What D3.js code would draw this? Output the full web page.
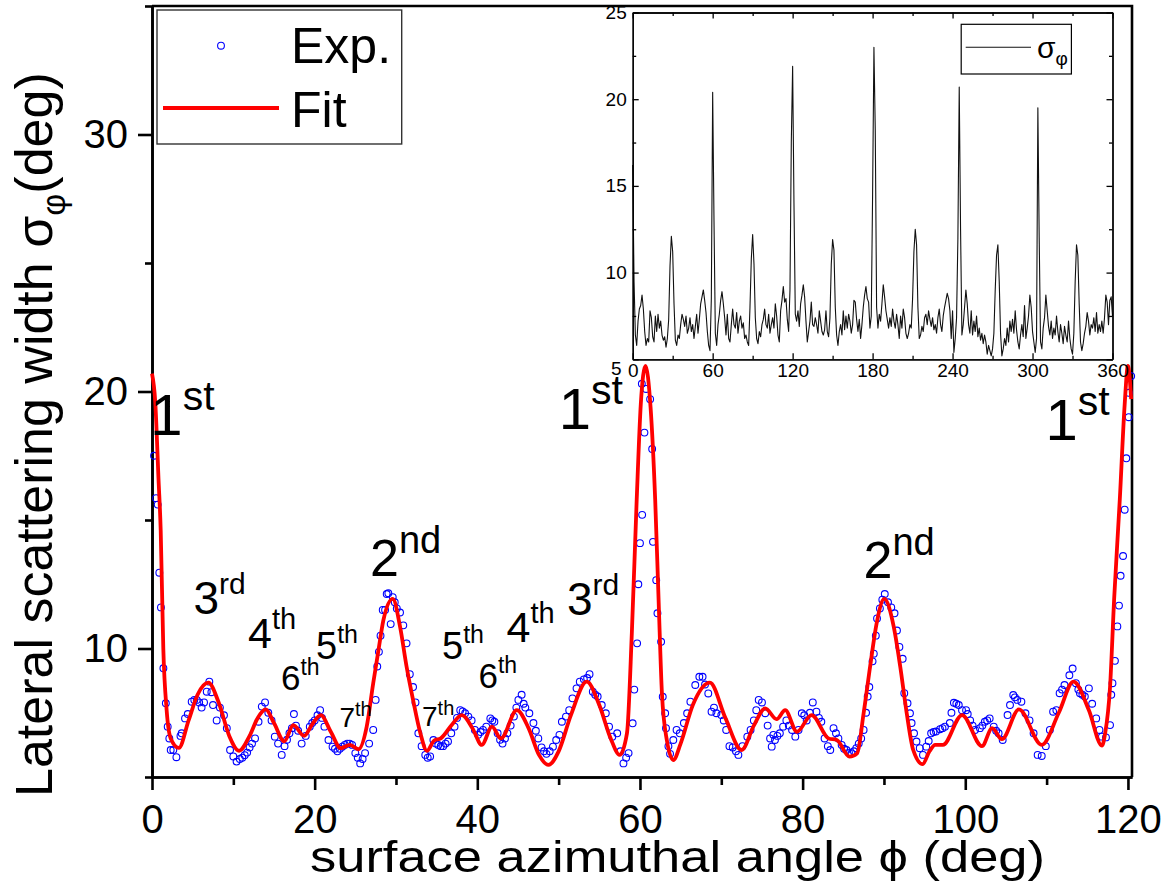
<!DOCTYPE html>
<html>
<head>
<meta charset="utf-8">
<script src="https://cdn.jsdelivr.net/npm/d3@7"></script>
<style>
  html, body { margin: 0; padding: 0; background: #fff; }
  svg { display: block; }
</style>
</head>
<body>
<svg id="chart" width="1172" height="894"></svg>
<script>
// ---------- data ----------
// measured lateral scattering width (deg) vs surface azimuth (deg), folded into 0-120
const expPoints = [
  [0.25,17.5],[0.5,15.85],[0.7,15.6],[0.9,12.95],[1.1,11.6],[1.4,9.23],[1.7,7.87],[1.93,6.96],[2.13,6.5],[2.3,6.05],
  [2.62,6.05],[3.0,5.77],[3.5,6.6],[3.65,6.7],[4.06,7.28],[4.4,7.45],[4.88,7.93],[5.2,8.0],[5.5,8.0],[5.8,7.9],
  [6.1,7.7],[6.4,7.9],[6.73,8.32],[7.05,8.71],[7.3,8.3],[7.5,7.8],[7.95,7.2],[8.35,7.7],[8.85,7.4],[9.2,6.9],
  [9.6,6.05],[10.0,5.8],[10.4,5.6],[10.8,5.7],[11.1,5.75],[11.4,5.85],[11.7,5.95],[12.0,6.15],[12.3,6.3],[12.67,6.5],
  [13.1,7.15],[13.5,7.74],[13.9,7.9],[14.3,7.5],[14.7,7.2],[15.1,6.57],[15.5,6.3],[15.95,5.86],[16.3,6.2],[16.6,6.45],
  [16.9,6.7],[17.2,6.9],[17.45,7.45],[17.7,7.0],[17.97,6.8],[18.4,6.3],[18.9,6.6],[19.4,6.96],[19.7,7.1],[20.0,7.2],
  [20.35,7.4],[20.67,7.6],[20.9,7.3],[21.2,6.96],[21.7,6.44],[22.2,6.18],[22.5,6.1],[22.8,6.0],[23.1,6.1],[23.4,6.18],
  [23.7,6.25],[24.0,6.3],[24.3,6.3],[24.6,6.25],[25.0,5.93],[25.3,5.75],[25.6,5.53],[25.9,5.7],[26.2,5.93],[26.7,6.3],
  [27.2,6.83],[27.5,8.0],[27.7,9.3],[27.9,9.87],[28.1,10.5],[28.37,11.5],[28.66,11.5],[28.86,12.12],[29.06,12.15],[29.35,10.95],
  [29.6,12.0],[29.85,11.8],[30.1,11.56],[30.5,11.4],[30.9,10.9],[31.3,10.2],[31.7,9.0],[32.1,8.5],[32.4,7.9],[32.75,6.7],
  [33.15,6.2],[33.6,5.86],[33.9,5.75],[34.2,5.8],[34.6,6.44],[34.9,6.3],[35.2,6.25],[35.5,6.2],[35.8,6.2],[36.1,6.3],
  [36.4,6.38],[36.8,6.7],[37.2,6.96],[37.5,7.3],[37.9,7.6],[38.2,7.55],[38.5,7.48],[38.9,7.35],[39.3,7.2],[39.7,6.83],
  [40.1,6.64],[40.4,6.75],[40.7,6.83],[41.1,6.96],[41.6,7.28],[41.85,7.2],[42.1,7.15],[42.5,6.7],[42.8,6.45],[43.1,6.3],
  [43.4,6.5],[43.7,6.7],[44.1,7.0],[44.5,7.35],[44.8,7.7],[45.05,8.0],[45.45,8.2],[45.7,7.85],[45.9,7.7],[46.4,7.48],
  [46.9,7.1],[47.2,6.8],[47.5,6.5],[47.9,6.15],[48.2,6.0],[48.5,5.9],[48.9,6.0],[49.3,6.18],[49.7,6.44],[50.1,6.64],
  [50.4,7.15],[50.9,7.35],[51.3,7.6],[51.7,8.06],[52.2,8.45],[52.6,8.71],[53.1,8.8],[53.5,8.85],[53.8,9.0],[54.2,8.32],
  [54.5,8.2],[54.8,8.13],[55.3,7.8],[55.8,7.48],[56.2,6.96],[56.6,6.57],[57.2,6.7],[57.6,6.0],[57.97,5.53],[58.3,5.75],
  [58.6,5.93],[59.1,7.09],[59.3,8.4],[59.65,10.2],[59.8,12.5],[60.0,14.1],[60.23,20.3],[60.27,15.2],[60.55,18.4],[60.76,20.1],
  [61.25,19.7],[61.5,17.76],[61.6,14.15],[62.0,12.66],[62.15,11.37],[62.6,10.26],[62.8,8.12],[63.1,7.48],[63.2,6.9],[63.5,6.2],
  [63.7,5.9],[64.1,6.44],[64.5,6.83],[64.9,6.7],[65.4,7.1],[65.8,7.48],[66.2,7.93],[66.8,8.58],[67.3,8.9],[67.7,8.9],
  [68.0,8.6],[68.4,8.25],[68.8,7.54],[69.1,7.7],[69.4,7.48],[70.0,7.41],[70.3,7.2],[70.6,6.83],[71.0,6.2],[71.4,6.15],
  [71.8,6.0],[72.1,5.86],[72.6,6.2],[73.2,6.57],[73.6,6.83],[74.0,7.2],[74.3,7.6],[74.6,8.0],[75.0,7.9],[75.4,7.48],
  [75.7,7.0],[76.0,6.5],[76.2,6.18],[76.4,6.64],[76.6,6.44],[76.9,6.6],[77.2,6.7],[77.6,6.96],[78.0,7.2],[78.3,7.0],
  [78.7,6.83],[79.1,6.57],[79.5,6.83],[79.9,7.48],[80.2,7.4],[80.5,7.2],[80.9,7.5],[81.25,7.9],[81.7,7.54],[82.0,7.3],
  [82.3,7.15],[82.7,6.5],[83.1,6.2],[83.4,6.05],[83.8,6.9],[84.1,6.7],[84.4,6.5],[84.8,6.25],[85.1,6.1],[85.4,6.05],
  [85.7,5.95],[86.0,5.93],[86.3,6.0],[86.6,6.12],[86.9,6.3],[87.2,6.5],[87.5,6.83],[87.8,7.5],[88.0,8.13],[88.2,8.5],
  [88.6,9.5],[88.75,9.8],[89.0,10.5],[89.15,11.17],[89.5,11.56],[89.8,11.9],[90.1,12.12],[90.5,11.8],[90.9,11.6],[91.3,11.37],
  [91.6,10.7],[91.9,10.06],[92.3,9.6],[92.5,8.26],[92.9,7.87],[93.2,7.48],[93.4,7.1],[93.7,6.7],[94.0,6.38],[94.4,6.12],
  [94.8,5.86],[95.2,6.18],[95.5,6.4],[95.8,6.7],[96.1,6.75],[96.4,6.77],[96.9,6.86],[97.2,6.9],[97.5,6.96],[98.1,7.1],
  [98.3,7.5],[98.6,7.89],[98.9,7.85],[99.2,7.8],[99.6,7.6],[100.1,7.6],[100.3,7.45],[100.6,7.2],[100.9,7.0],[101.2,6.83],
  [101.8,6.9],[102.1,7.0],[102.4,7.15],[102.7,7.2],[103.0,7.28],[103.5,6.96],[103.8,6.8],[104.1,6.7],[104.6,6.44],[105.2,7.41],
  [105.5,7.8],[105.9,8.19],[106.1,8.1],[106.4,8.0],[106.9,7.93],[107.4,7.48],[107.9,7.2],[108.4,6.7],[108.9,5.86],[109.4,5.82],
  [109.9,6.2],[110.4,6.83],[110.8,7.54],[111.2,7.6],[111.6,8.26],[111.9,8.4],[112.2,8.58],[112.8,8.96],[113.2,9.22],[113.6,8.65],
  [113.9,8.4],[114.1,8.26],[114.4,8.2],[114.7,8.13],[115.2,8.45],[115.6,7.85],[116.1,7.28],[116.5,6.83],[116.8,6.57],[117.3,6.54],
  [117.8,7.02],[117.95,8.2],[118.1,8.65],[118.4,9.52],[118.7,10.86],[118.9,11.67],[119.1,12.83],[119.4,13.6],[119.6,15.4],[119.8,17.4],
  [120.1,19.95],[120.1,19.0],[120.4,20.6]
];

// fitted curve, sampled at its turning points and flanks
const fitPhi = [0,0.4,0.8,1.07,1.39,1.8,2.3,3.3,4.5,5.6,6.93,8.2,9.5,10.7,12.0,13.0,13.98,15.0,16.27,17.38,
  18.7,19.7,20.75,22.0,23.2,24.35,25.38,26.4,27.2,27.85,28.45,29.6,30.5,31.3,32.1,33.0,33.8,34.7,35.5,36.8,
  38.1,39.4,40.55,41.8,42.9,44.86,46.3,47.6,48.75,50.0,51.5,53.46,55.0,56.4,57.5,58.4,59.0,59.6,60.1,60.68,
  61.3,61.87,62.3,62.7,63.3,64.1,65.0,66.5,68.6,70.5,72.5,74.0,75.4,76.8,77.86,79.3,81.1,83.2,84.2,85.77,
  86.7,87.5,88.3,89.1,90.04,91.2,92.0,92.8,93.6,94.75,95.6,96.3,97.25,99.6,102.05,103.3,104.5,106.6,109.4,111.5,
  113.3,115.2,116.8,117.2,117.8,118.3,119.0,119.6,120.0,120.4];
const fitVal = [20.7,19.6,16.6,14.6,10.0,7.6,6.5,6.13,7.2,8.2,8.67,7.9,6.6,6.02,6.6,7.3,7.63,7.1,6.39,7.02,
  6.6,7.05,7.41,6.75,6.12,6.25,6.08,6.96,8.65,9.94,11.1,11.93,10.85,9.3,8.0,6.7,6.02,6.42,6.5,7.0,
  7.41,6.9,6.25,6.96,6.5,7.6,6.9,5.85,5.47,6.0,7.4,8.71,7.8,6.5,5.86,6.7,10.6,15.8,19.5,21.0,
  19.4,15.8,11.8,8.26,6.44,5.66,6.3,7.8,8.67,7.3,6.05,7.0,7.67,7.25,7.6,6.76,7.41,6.5,6.44,5.79,
  5.92,7.48,9.3,10.98,11.93,10.85,9.3,7.48,6.05,5.5,6.0,6.25,6.25,7.41,6.2,6.9,6.47,7.63,6.25,7.5,
  8.71,7.6,6.22,6.7,8.5,11.9,15.8,19.5,21.0,19.7];

// full-turn scan, one value per degree from 0 to 360
const insetVal = [
  16.2,9.5,6.4,5.8,7.2,7.9,8.1,8.7,7.9,6.6,
  5.8,6.2,6.0,7.8,7.4,6.3,6.0,7.5,6.6,7.6,
  6.8,7.2,6.4,6.1,6.3,5.7,6.2,7.3,10.4,12.1,
  11.2,8.2,6.1,5.8,6.4,6.2,7.0,7.6,7.3,6.9,
  7.5,6.5,6.8,7.4,6.6,7.0,6.2,6.9,7.6,6.5,
  7.3,8.2,8.6,9.0,8.4,7.7,6.6,5.8,5.5,8.5,
  20.4,13.0,6.5,5.8,7.0,7.6,8.4,8.9,8.2,7.4,
  6.4,7.6,6.2,6.0,7.0,7.9,7.0,6.8,7.7,6.5,
  7.2,7.5,6.8,7.1,6.2,6.4,6.0,5.8,8.0,10.8,
  12.2,10.5,7.4,6.2,5.9,6.6,6.3,7.0,7.3,7.9,
  7.0,6.8,7.6,6.5,7.0,7.4,6.8,8.2,7.5,6.4,
  6.0,7.8,8.4,9.2,8.3,8.5,7.3,6.6,9.0,17.5,
  21.9,14.0,7.6,7.2,7.8,6.9,8.2,8.7,9.3,8.6,
  7.2,6.0,6.6,7.2,8.3,7.0,6.9,7.4,7.0,6.5,
  7.8,7.2,6.6,6.4,6.7,7.8,6.6,6.3,7.4,10.5,
  11.9,11.3,8.0,6.4,5.8,6.6,7.0,6.4,7.8,6.7,
  7.5,6.8,7.6,7.2,6.5,7.0,8.4,8.3,7.3,6.6,
  7.3,6.2,7.0,8.0,8.7,9.2,8.5,8.3,6.8,7.5,
  14.5,23.0,18.2,8.0,6.8,7.6,7.2,8.2,9.3,8.6,
  7.8,7.3,6.8,7.4,6.9,7.9,7.2,6.8,7.6,7.0,
  6.2,7.5,6.8,7.9,7.4,6.5,6.2,6.5,7.0,6.8,
  8.5,11.2,12.5,11.6,8.0,6.2,6.4,6.9,6.6,7.4,
  7.6,7.0,7.8,7.3,6.9,7.4,6.7,7.0,6.5,7.4,
  7.9,7.0,6.6,7.5,8.0,8.4,8.8,8.5,7.8,6.2,
  7.8,5.4,6.2,7.4,12.0,20.7,12.5,6.4,7.0,8.0,
  9.0,8.2,7.0,6.5,7.8,6.4,7.2,6.6,7.5,6.3,
  6.8,6.1,6.5,5.9,6.4,6.0,5.3,5.8,5.5,5.2,
  5.6,6.5,9.0,11.0,11.6,9.5,6.5,5.2,5.6,6.2,
  5.8,6.8,6.0,7.2,6.6,7.3,6.5,7.8,6.7,6.0,
  5.6,6.4,7.0,6.3,8.1,6.2,6.8,7.5,8.7,8.0,
  6.6,6.0,5.4,6.2,19.5,12.0,6.0,5.6,6.8,7.4,
  8.7,7.8,6.9,6.4,7.2,6.2,6.8,6.4,7.5,6.6,
  6.0,7.0,6.5,5.9,6.9,6.4,6.0,7.2,6.2,5.6,
  5.3,6.5,9.5,11.6,11.0,8.2,6.0,5.5,5.9,6.5,
  6.9,7.7,7.2,6.4,7.0,6.8,7.4,6.6,7.7,6.5,
  7.0,6.6,7.2,6.5,7.4,8.7,8.3,7.0,8.4,8.6,
  7.5
];

// tick values
const xTicks = [0, 20, 40, 60, 80, 100, 120];
const xMinorTicks = [10, 30, 50, 70, 90, 110];
const yTicks = [10, 20, 30];
const yMinorTicks = [5, 15, 25, 35];
const insetXTicks = [0, 60, 120, 180, 240, 300, 360];
const insetXMinorTicks = [30, 90, 150, 210, 270, 330];
const insetYTicks = [5, 10, 15, 20, 25];
const insetYMinorTicks = [7.5, 12.5, 17.5, 22.5];

// diffraction-order labels: number, suffix, anchor (phi, sigma)
const orderLabels = [
  { n: "1", s: "st", phi: -0.2,  val: 18.31 },
  { n: "1", s: "st", phi: 50.0,  val: 18.53 },
  { n: "1", s: "st", phi: 109.85, val: 18.11 },
  { n: "2", s: "nd", phi: 26.8,  val: 12.82 },
  { n: "2", s: "nd", phi: 87.48, val: 12.73 },
  { n: "3", s: "rd", phi: 5.10,  val: 11.33 },
  { n: "3", s: "rd", phi: 51.03, val: 11.30 },
  { n: "4", s: "th", phi: 11.80, val: 10.03 },
  { n: "4", s: "th", phi: 43.59, val: 10.26 },
  { n: "5", s: "th", phi: 20.17, val: 9.58 },
  { n: "5", s: "th", phi: 35.66, val: 9.58 },
  { n: "6", s: "th", phi: 15.86, val: 8.39 },
  { n: "6", s: "th", phi: 40.15, val: 8.45 },
  { n: "7", s: "th", phi: 23.05, val: 6.96 },
  { n: "7", s: "th", phi: 33.20, val: 6.98 }
];

// ---------- styling ----------
const FONT = "'Liberation Sans', Arial, Helvetica, sans-serif";
const orderStyle = { // base size, suffix size, suffix raise
  "1": [58, 41, -25], "2": [52, 38, -23.5], "3": [46, 30, -20.3],
  "4": [43, 29, -19], "5": [38, 25, -16.5], "6": [35, 23, -15], "7": [28, 20, -11]
};

const svg = d3.select("#chart");

// ---------- main plot ----------
const x = d3.scaleLinear().domain([0, 120.5]).range([152, 1132]);
const y = d3.scaleLinear().domain([5, 35]).range([777, 6]);

// frame (top and right)
svg.append("path")
  .attr("d", `M${x(0)},${y(35)}H${x(120.5)}V${y(5)}`)
  .attr("fill", "none").attr("stroke", "#000").attr("stroke-width", 2.6);

function styleAxis(g, size, width) {
  g.select(".domain").attr("stroke", "#000").attr("stroke-width", width);
  g.selectAll(".tick line").attr("stroke", "#000").attr("stroke-width", width);
  g.selectAll(".tick text").attr("fill", "#000").style("font-family", FONT).style("font-size", size + "px");
}

// x axis
const gxMinor = svg.append("g").attr("transform", `translate(0,${y(5)})`)
  .call(d3.axisBottom(x).tickValues(xMinorTicks).tickSize(8).tickSizeOuter(0).tickFormat(""));
styleAxis(gxMinor, 40, 2.6);
const gx = svg.append("g").attr("transform", `translate(0,${y(5)})`)
  .call(d3.axisBottom(x).tickValues(xTicks).tickSize(13).tickSizeOuter(0).tickPadding(15).tickFormat(d3.format("d")));
styleAxis(gx, 40, 2.6);

// y axis
const gyMinor = svg.append("g").attr("transform", `translate(${x(0)},0)`)
  .call(d3.axisLeft(y).tickValues(yMinorTicks).tickSize(7).tickSizeOuter(0).tickFormat(""));
styleAxis(gyMinor, 40, 2.6);
const gy = svg.append("g").attr("transform", `translate(${x(0)},0)`)
  .call(d3.axisLeft(y).tickValues(yTicks).tickSize(14).tickSizeOuter(0).tickPadding(10).tickFormat(d3.format("d")));
styleAxis(gy, 40, 2.6);

// axis titles
svg.append("text")
  .attr("x", 310).attr("y", 872)
  .attr("textLength", 735).attr("lengthAdjust", "spacingAndGlyphs")
  .style("font-family", FONT).style("font-size", "44px").attr("fill", "#000")
  .text("surface azimuthal angle \u03D5 (deg)");

const yTitle = svg.append("text")
  .attr("transform", "translate(52,797) rotate(-90)")
  .style("font-family", FONT).style("font-size", "52px").attr("fill", "#000");
yTitle.append("tspan").text("Lateral scattering width \u03C3");
yTitle.append("tspan").attr("dy", 13).style("font-size", "34px").text("\u03C6");
yTitle.append("tspan").attr("dy", -13).text("(deg)");

// experimental points
svg.append("g").selectAll("circle").data(expPoints).join("circle")
  .attr("cx", d => x(d[0])).attr("cy", d => y(d[1])).attr("r", 3.4)
  .attr("fill", "none").attr("stroke", "#0000ff").attr("stroke-width", 1.1);

// fit
const fitData = fitPhi.map((p, i) => [p, fitVal[i]]);
svg.append("path").datum(fitData)
  .attr("d", d3.line().x(d => x(d[0])).y(d => y(d[1])).curve(d3.curveMonotoneX))
  .attr("fill", "none").attr("stroke", "#ff0000").attr("stroke-width", 3.8)
  .attr("stroke-linejoin", "round");

// order labels
const lab = svg.append("g").style("font-family", FONT).attr("fill", "#000");
orderLabels.forEach(o => {
  const st = orderStyle[o.n];
  const t = lab.append("text").attr("x", x(o.phi)).attr("y", y(o.val));
  t.append("tspan").style("font-size", st[0] + "px").text(o.n);
  t.append("tspan").style("font-size", st[1] + "px").attr("dy", st[2]).text(o.s);
});

// legend
const leg = svg.append("g");
leg.append("rect").attr("x", 157).attr("y", 10).attr("width", 244.7).attr("height", 134)
  .attr("fill", "#fff").attr("stroke", "#333").attr("stroke-width", 1.4);
leg.append("circle").attr("cx", 221).attr("cy", 45.7).attr("r", 3.4)
  .attr("fill", "none").attr("stroke", "#0000ff").attr("stroke-width", 1.1);
leg.append("line").attr("x1", 163).attr("x2", 279).attr("y1", 108).attr("y2", 108)
  .attr("stroke", "#ff0000").attr("stroke-width", 3.8);
leg.append("text").attr("x", 291).attr("y", 63).style("font-family", FONT).style("font-size", "50px").text("Exp.");
leg.append("text").attr("x", 291).attr("y", 126.7).style("font-family", FONT).style("font-size", "50px").text("Fit");

// ---------- inset ----------
const ix = d3.scaleLinear().domain([0, 360]).range([632.7, 1112.5]);
const iy = d3.scaleLinear().domain([5, 25]).range([359.3, 12.5]);

svg.append("rect").attr("x", ix(0)).attr("y", iy(25))
  .attr("width", ix(360) - ix(0)).attr("height", iy(5) - iy(25)).attr("fill", "#fff");

const insetData = insetVal.map((v, i) => [i, v]);
svg.append("path").datum(insetData)
  .attr("d", d3.line().x(d => ix(d[0])).y(d => iy(d[1])))
  .attr("fill", "none").attr("stroke", "#111").attr("stroke-width", 1.1)
  .attr("stroke-linejoin", "round");

function insetAxis(axis, transform, withLabels) {
  const g = svg.append("g").attr("transform", transform).call(axis);
  styleAxis(g, 19, 1.3);
  if (!withLabels) g.selectAll(".tick text").remove();
  return g;
}
// bottom / left with labels, ticks pointing inward
insetAxis(d3.axisBottom(ix).tickValues(insetXTicks).tickSizeInner(-6).tickSizeOuter(0).tickPadding(4).tickFormat(d3.format("d")),
  `translate(0,${iy(5)})`, true);
insetAxis(d3.axisBottom(ix).tickValues(insetXMinorTicks).tickSizeInner(-3.5).tickSizeOuter(0).tickFormat(""),
  `translate(0,${iy(5)})`, false);
const ily = insetAxis(d3.axisLeft(iy).tickValues(insetYTicks).tickSizeInner(-6).tickSizeOuter(0).tickPadding(6).tickFormat(d3.format("d")),
  `translate(${ix(0)},0)`, true);
insetAxis(d3.axisLeft(iy).tickValues(insetYMinorTicks).tickSizeInner(-3.5).tickSizeOuter(0).tickFormat(""),
  `translate(${ix(0)},0)`, false);
// the "5" label sits just below and left of the corner, clear of the "0"
ily.selectAll(".tick").filter(d => d === 5).select("text").attr("x", -11).attr("dy", "0.78em");
// mirrored top / right
insetAxis(d3.axisTop(ix).tickValues(insetXTicks).tickSizeInner(-6).tickSizeOuter(0), `translate(0,${iy(25)})`, false);
insetAxis(d3.axisTop(ix).tickValues(insetXMinorTicks).tickSizeInner(-3.5).tickSizeOuter(0), `translate(0,${iy(25)})`, false);
insetAxis(d3.axisRight(iy).tickValues(insetYTicks).tickSizeInner(-6).tickSizeOuter(0), `translate(${ix(360)},0)`, false);
insetAxis(d3.axisRight(iy).tickValues(insetYMinorTicks).tickSizeInner(-3.5).tickSizeOuter(0), `translate(${ix(360)},0)`, false);

// inset legend
const ileg = svg.append("g");
ileg.append("rect").attr("x", 961.2).attr("y", 24.3).attr("width", 110.2).attr("height", 49.7)
  .attr("fill", "#fff").attr("stroke", "#000").attr("stroke-width", 1.2);
ileg.append("line").attr("x1", 965.7).attr("x2", 1031).attr("y1", 47.3).attr("y2", 47.3)
  .attr("stroke", "#111").attr("stroke-width", 1.1);
const it = ileg.append("text").attr("x", 1037).attr("y", 58.3)
  .style("font-family", FONT).style("font-size", "30px").attr("fill", "#000");
it.append("tspan").text("\u03C3");
it.append("tspan").attr("dy", 7).style("font-size", "19px").text("\u03C6");
</script>
</body>
</html>
